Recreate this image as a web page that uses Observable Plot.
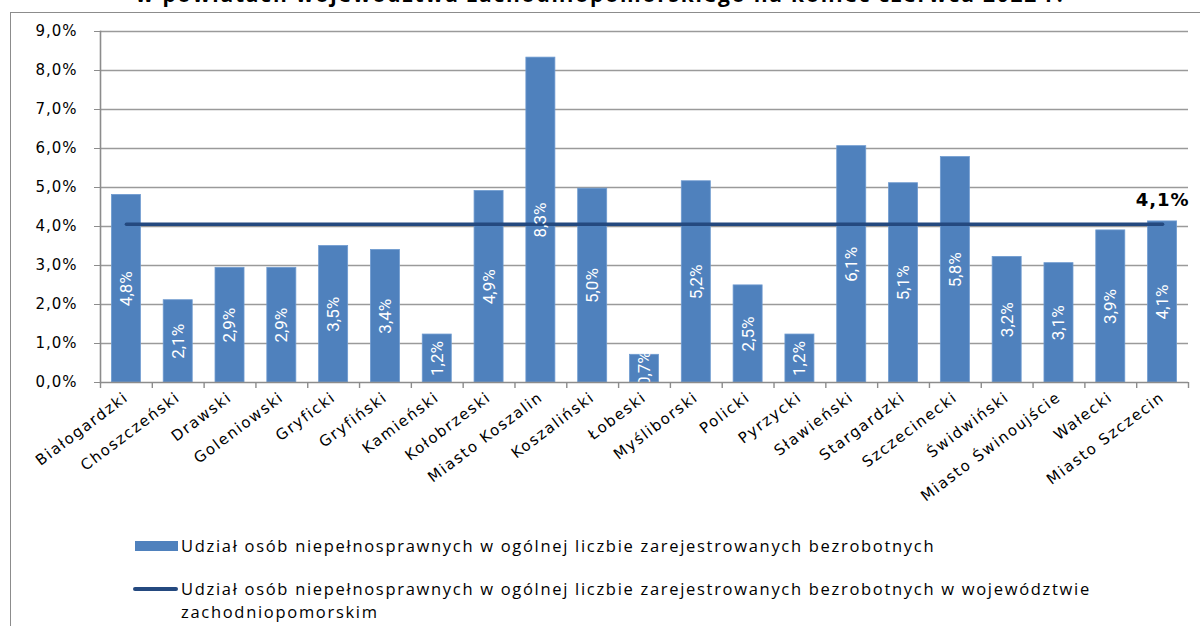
<!DOCTYPE html>
<html>
<head>
<meta charset="utf-8">
<script src="https://cdn.jsdelivr.net/npm/d3@7"></script>
<script src="https://cdn.jsdelivr.net/npm/@observablehq/plot@0.6"></script>
<style>
  html, body { margin: 0; padding: 0; background: #fff; overflow: hidden; }
  #wrap { position: relative; width: 1200px; height: 626px; overflow: hidden; }
  #title { position: absolute; left: 0; width: 1200px; top: -18px; text-align: center;
    font-family: "Open Sans", sans-serif; font-weight: 700; font-size: 21px; letter-spacing: 1.8px; line-height: 25px; color: #000; }
  #border { position: absolute; left: 10px; top: 12px; width: 1300px; height: 700px;
    border-left: 1.5px solid #8c8c8c; border-top: 1.5px solid #8c8c8c; }
  #chart { position: absolute; left: 0; top: 0; }
  #chart g[aria-label="x-axis tick label"] text { letter-spacing: 1.6px; }
  #chart g[aria-label="y-axis tick label"] text { letter-spacing: 1px; }
  #chart g.avglab text { letter-spacing: 1px; }
  .leg { position: absolute; font-family: "Open Sans", sans-serif; font-size: 16.5px; letter-spacing: 1.7px; color: #000; line-height: 23px; white-space: nowrap; }
  .sw { position: absolute; }
</style>
</head>
<body>
<div id="wrap">
  <div id="border"></div>
  <div id="title">w powiatach województwa zachodniopomorskiego na koniec czerwca 2022 r.</div>
  <div id="chart"></div>
  <div class="sw" style="left:135px;top:541px;width:43px;height:10px;background:#4F81BD;"></div>
  <div class="leg" style="left:181px;top:534px;">Udział osób niepełnosprawnych w ogólnej liczbie zarejestrowanych bezrobotnych</div>
  <div class="sw" style="left:133px;top:587px;width:45px;height:4px;background:#24497f;border-radius:2px;"></div>
  <div class="leg" style="left:181px;top:577px;">Udział osób niepełnosprawnych w ogólnej liczbie zarejestrowanych bezrobotnych w województwie<br>zachodniopomorskim</div>
</div>
<script>
const categories = ["Białogardzki","Choszczeński","Drawski","Goleniowski","Gryficki","Gryfiński","Kamieński","Kołobrzeski","Miasto Koszalin","Koszaliński","Łobeski","Myśliborski","Policki","Pyrzycki","Sławieński","Stargardzki","Szczecinecki","Świdwiński","Miasto Świnoujście","Wałecki","Miasto Szczecin"];
const values = [4.81, 2.11, 2.94, 2.94, 3.50, 3.40, 1.23, 4.91, 8.33, 4.97, 0.71, 5.16, 2.49, 1.23, 6.06, 5.11, 5.78, 3.22, 3.06, 3.90, 4.13];
const avgValue = 4.06;
const yTicks = [0, 1, 2, 3, 4, 5, 6, 7, 8, 9];

const fmt = v => v.toFixed(1).replace(".", ",") + "%";
const data = categories.map((c, i) => ({c, v: values[i]}));
const avgData = categories.map(c => ({c, v: avgValue}));
const lastAvg = [avgData[avgData.length - 1]];

const W = 1200, H = 626, ML = 100, MR = 12, MT = 31, MB = 244;
const step = (W - ML - MR) / categories.length;

const chart = Plot.plot({
  width: W, height: H,
  marginLeft: ML, marginRight: MR, marginTop: MT, marginBottom: MB,
  style: {background: "transparent", overflow: "visible"},
  x: {domain: categories, paddingInner: 0.44, paddingOuter: 0.22, round: false, label: null},
  y: {domain: [0, 9], label: null},
  marks: [
    Plot.ruleY(yTicks.slice(1), {stroke: "#9a9a9a", strokeWidth: 1.4}),
    Plot.barY(data, {x: "c", y: "v", fill: "#4F81BD", stroke: "#6f9bd0", strokeWidth: 0.8}),
    Plot.lineY(avgData, {x: "c", y: "v", stroke: "#24497f", strokeWidth: 3.5, strokeLinecap: "round"}),
    Plot.text(data, {x: "c", y: d => d.v / 2, text: d => fmt(d.v), rotate: -90, fill: "#fff",
      fontFamily: "Roboto, sans-serif", fontSize: 17}),
    Plot.text(lastAvg, {x: "c", y: "v", text: d => fmt(d.v), dy: -24, fill: "#000", className: "avglab",
      fontFamily: "DejaVu Sans, sans-serif", fontWeight: "bold", fontSize: 18}),
    Plot.ruleX(categories, {x: d => d, y1: 0, y2: 0, insetBottom: -6, dx: -step / 2, stroke: "#8c8c8c", strokeWidth: 1.4}),
    Plot.ruleX(categories.slice(-1), {x: d => d, y1: 0, y2: 0, insetBottom: -6, dx: step / 2, stroke: "#8c8c8c", strokeWidth: 1.4}),
    Plot.frame({anchor: "left", stroke: "#8c8c8c", strokeWidth: 1.6}),
    Plot.ruleY([0], {stroke: "#8c8c8c", strokeWidth: 1.6}),
    Plot.axisY({ticks: yTicks, tickFormat: fmt, tickSize: 6, tickPadding: 17, stroke: "#8c8c8c",
      fontSize: 15, fontFamily: "DejaVu Sans, sans-serif", fill: "#000", label: null}),
    Plot.axisX({tickRotate: -37, tickSize: 0, tickPadding: 13, dx: 0, fontSize: 15,
      fontFamily: "DejaVu Sans, sans-serif", fill: "#000", label: null})
  ]
});
document.getElementById("chart").appendChild(chart);
</script>
</body>
</html>
